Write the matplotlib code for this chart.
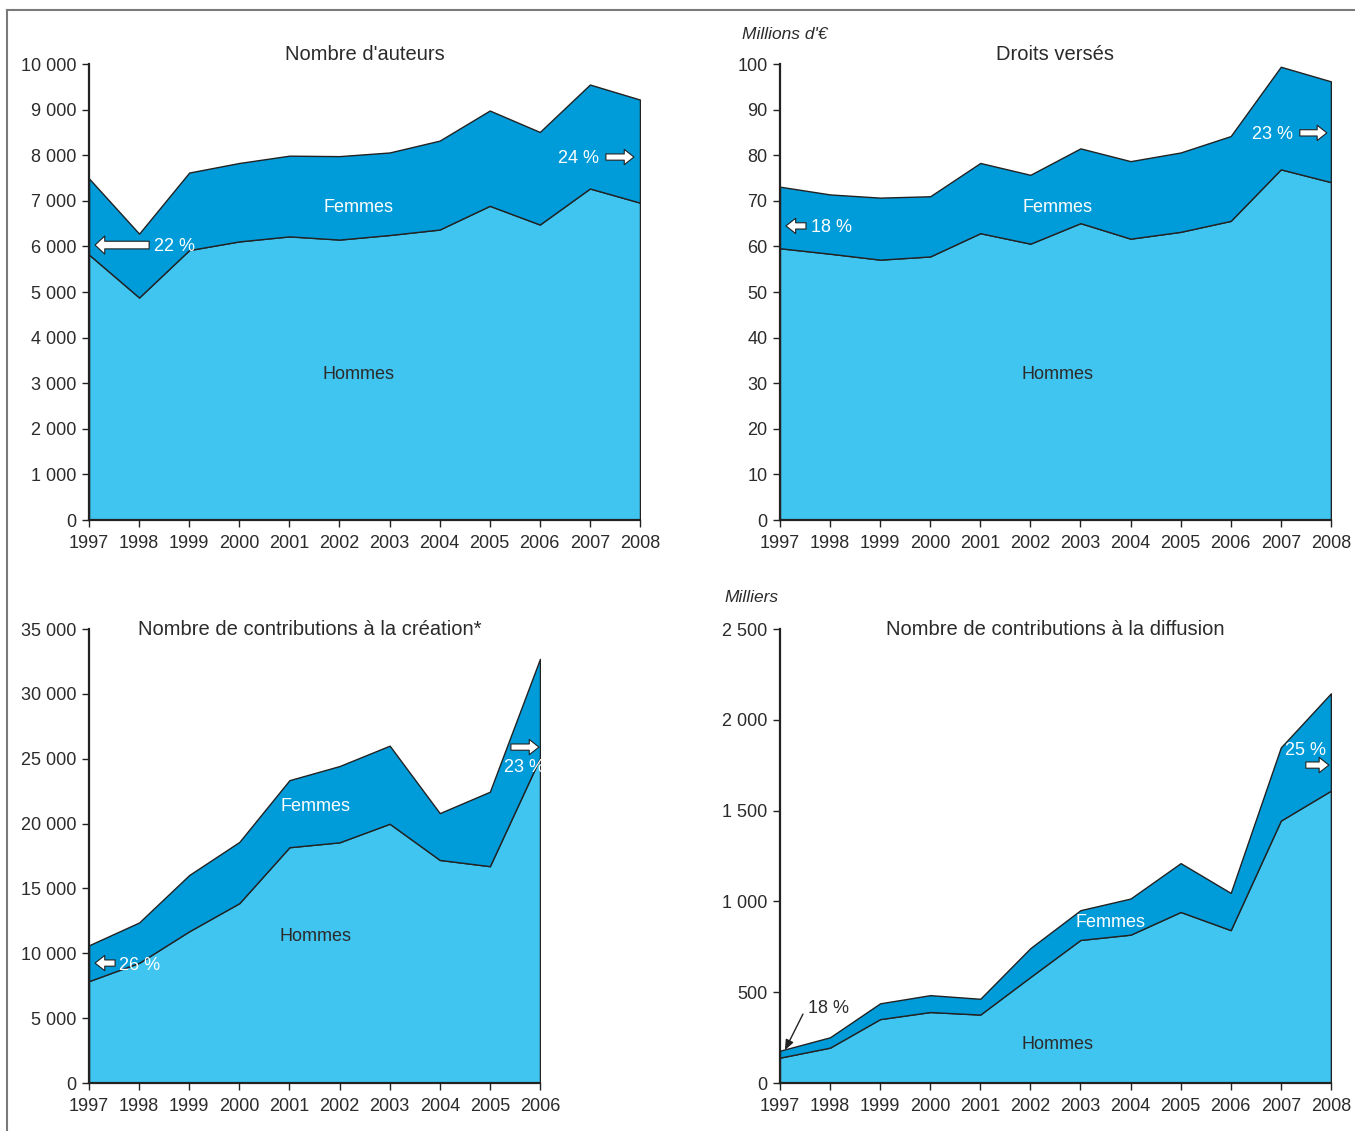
import matplotlib
matplotlib.use('Agg')
import matplotlib.pyplot as plt
from matplotlib.ticker import FuncFormatter
from matplotlib.lines import Line2D

plt.rcParams['font.family'] = ['Liberation Sans', 'DejaVu Sans']

# Couleurs
cor_hommes = '#40C5F1'
cor_femmes = '#009BD9'
cor_borda = '#222222'
cor_texto = '#2b2b2b'

# Dados
anos = [1997, 1998, 1999, 2000, 2001, 2002, 2003, 2004, 2005, 2006, 2007, 2008]
anos_creation = [1997, 1998, 1999, 2000, 2001, 2002, 2003, 2004, 2005, 2006]

# Nombre d'auteurs
auteurs_total = [7490, 6280, 7620, 7830, 7990, 7980, 8060, 8320, 8980, 8510, 9550, 9220]
auteurs_hommes = [5820, 4880, 5920, 6110, 6220, 6150, 6250, 6370, 6890, 6480, 7270, 6960]

# Droits versés (millions d'euros)
droits_total = [73.1, 71.4, 70.7, 71.0, 78.3, 75.7, 81.5, 78.7, 80.6, 84.2, 99.4, 96.2]
droits_hommes = [59.6, 58.4, 57.1, 57.8, 62.9, 60.6, 65.1, 61.7, 63.2, 65.6, 76.9, 74.1]

# Nombre de contributions à la création
creation_total = [10620, 12380, 16040, 18590, 23350, 24440, 26010, 20810, 22460, 32700]
creation_hommes = [7860, 9270, 11700, 13870, 18180, 18560, 19990, 17200, 16720, 25060]

# Nombre de contributions à la diffusion (milliers)
diffusion_total = [178, 252, 439, 484, 464, 743, 952, 1016, 1211, 1047, 1848, 2146]
diffusion_hommes = [140, 195, 352, 391, 377, 584, 788, 817, 942, 842, 1445, 1610]


def milhar(v, pos):
    return f'{int(v):,}'.replace(',', ' ')


def painel(ax, x, total, hommes, titulo, ymax, ystep):
    """
    Desenha um painel com as áreas Hommes / Femmes empilhadas.
    """
    ax.fill_between(x, 0, hommes, facecolor=cor_hommes, edgecolor=cor_borda, linewidth=1.0)
    ax.fill_between(x, hommes, total, facecolor=cor_femmes, edgecolor=cor_borda, linewidth=1.0)
    ax.set_xlim(x[0], x[-1])
    ax.set_ylim(0, ymax)
    ax.set_xticks(x)
    ax.set_yticks(range(0, ymax + 1, ystep))
    ax.yaxis.set_major_formatter(FuncFormatter(milhar))
    for lado in ['top', 'right']:
        ax.spines[lado].set_visible(False)
    for lado in ['left', 'bottom']:
        ax.spines[lado].set_color(cor_borda)
        ax.spines[lado].set_linewidth(1.6)
    ax.tick_params(axis='both', colors=cor_borda, labelcolor=cor_texto, labelsize=13,
                   length=5, width=1, direction='out')
    ax.tick_params(axis='y', pad=4)
    ax.tick_params(axis='x', pad=6)
    ax.set_title(titulo, fontsize=14.5, color=cor_texto, pad=1)


def seta(ax, ponta, cauda, hw=0.9, tw=0.45):
    ax.annotate('', xy=ponta, xytext=cauda,
                arrowprops=dict(arrowstyle=f'simple,head_length=0.7,head_width={hw},tail_width={tw}',
                                fc='white', ec=cor_borda, lw=0.8, shrinkA=0, shrinkB=0))


fig = plt.figure(figsize=(13.55, 11.31), dpi=100)

ax1 = fig.add_axes([0.0657, 0.5402, 0.4066, 0.4032])
ax2 = fig.add_axes([0.5756, 0.5402, 0.4066, 0.4032])
ax3 = fig.add_axes([0.0657, 0.0424, 0.3328, 0.4014])
ax4 = fig.add_axes([0.5756, 0.0424, 0.4066, 0.4014])

# Painel 1
painel(ax1, anos, auteurs_total, auteurs_hommes, "Nombre d'auteurs", 10000, 1000)
ax1.text(2002.39, 6850, 'Femmes', color='white', fontsize=13, ha='center', va='center')
ax1.text(2002.39, 3200, 'Hommes', color=cor_texto, fontsize=13, ha='center', va='center')
seta(ax1, (1997.12, 6030), (1998.2, 6030), hw=1.3, tw=0.55)
ax1.text(1998.3, 6000, '22 %', color='white', fontsize=13, ha='left', va='center')
ax1.text(2006.78, 7930, '24 %', color='white', fontsize=13, ha='center', va='center')
seta(ax1, (2007.88, 7960), (2007.32, 7960), hw=1.1)

# Painel 2
painel(ax2, anos, droits_total, droits_hommes, 'Droits versés', 100, 10)
ax2.text(-0.069, 1.064, "Millions d'€", transform=ax2.transAxes, fontsize=12.5,
         style='italic', color=cor_texto, ha='left', va='center')
ax2.text(2002.55, 68.5, 'Femmes', color='white', fontsize=13, ha='center', va='center')
ax2.text(2002.55, 32.0, 'Hommes', color=cor_texto, fontsize=13, ha='center', va='center')
seta(ax2, (1997.12, 64.5), (1997.52, 64.5), hw=1.1)
ax2.text(1997.62, 64.2, '18 %', color='white', fontsize=13, ha='left', va='center')
ax2.text(2006.83, 84.6, '23 %', color='white', fontsize=13, ha='center', va='center')
seta(ax2, (2007.92, 84.9), (2007.38, 84.9), hw=1.1)

# Painel 3
painel(ax3, anos_creation, creation_total, creation_hommes,
       'Nombre de contributions à la création*', 35000, 5000)
ax3.set_title('Nombre de contributions à la création*', fontsize=14.5, color=cor_texto,
              y=1.0, pad=0, va='center', x=0.49)
ax3.text(2001.53, 21300, 'Femmes', color='white', fontsize=13, ha='center', va='center')
ax3.text(2001.53, 11300, 'Hommes', color=cor_texto, fontsize=13, ha='center', va='center')
seta(ax3, (1997.12, 9250), (1997.52, 9250), hw=1.1)
ax3.text(1997.6, 9100, '26 %', color='white', fontsize=13, ha='left', va='center')
seta(ax3, (2005.98, 25900), (2005.42, 25900), hw=1.1)
ax3.text(2005.28, 24300, '23 %', color='white', fontsize=13, ha='left', va='center')

# Painel 4
painel(ax4, anos, diffusion_total, diffusion_hommes,
       'Nombre de contributions à la diffusion', 2500, 500)
ax4.set_title('Nombre de contributions à la diffusion', fontsize=14.5, color=cor_texto,
              y=1.0, pad=0, va='center')
ax4.text(-0.0998, 1.0705, 'Milliers', transform=ax4.transAxes, fontsize=12.5,
         style='italic', color=cor_texto, ha='left', va='center')
ax4.text(2003.59, 885, 'Femmes', color='white', fontsize=13, ha='center', va='center')
ax4.text(2002.55, 210, 'Hommes', color=cor_texto, fontsize=13, ha='center', va='center')
ax4.text(2007.5, 1830, '25 %', color='white', fontsize=13, ha='center', va='center')
seta(ax4, (2007.96, 1751), (2007.5, 1751), hw=1.1)
ax4.text(1997.56, 408, '18 %', color=cor_texto, fontsize=13, ha='left', va='center')
ax4.annotate('', xy=(1997.1, 182), xytext=(1997.46, 380),
             arrowprops=dict(arrowstyle='-|>,head_length=0.6,head_width=0.25',
                             color=cor_borda, lw=1.0, shrinkA=0, shrinkB=0))

# Moldura cinza (topo e esquerda)
fig.add_artist(Line2D([0.0052, 1.0], [0.9912, 0.9912], color='#7a7a7a', lw=1.5))
fig.add_artist(Line2D([0.0052, 0.0052], [0.0, 0.9912], color='#7a7a7a', lw=1.5))

plt.savefig('out.png', dpi=100)
